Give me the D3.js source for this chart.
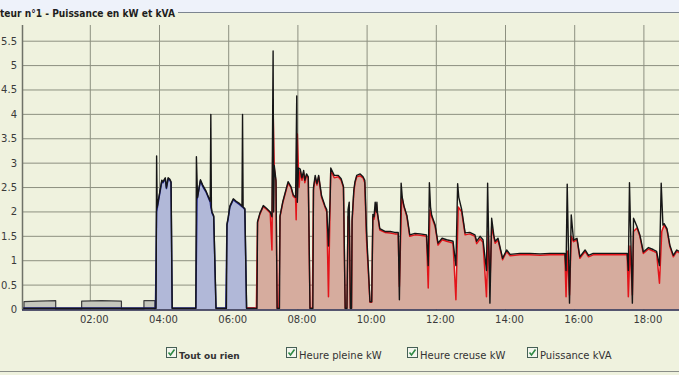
<!DOCTYPE html>
<html lang="fr">
<head>
<meta charset="utf-8">
<title>Puissance en kW et kVA</title>
<style>
  html, body { margin: 0; padding: 0; background: #eff2de; }
  svg { display: block; font-family: "DejaVu Sans", Verdana, sans-serif; }
  .grid line { stroke: #8d9080; stroke-width: 1; }
  .tick-label { font-size: 10px; fill: #3a3a3a; }
  .legend text { font-size: 10px; fill: #333; }
</style>
</head>
<body>
<svg id="chart" width="679" height="375"></svg>
<script src="https://cdn.jsdelivr.net/npm/d3@7/dist/d3.min.js"></script>
<script>
// chart values
const title = "teur n°1 - Puissance en kW et kVA";
const yTicks = [0, 0.5, 1, 1.5, 2, 2.5, 3, 3.5, 4, 4.5, 5, 5.5];
const xTickLabels = ["02:00", "04:00", "06:00", "08:00", "10:00", "12:00", "14:00", "16:00", "18:00"];
const legendLabels = ["Tout ou rien", "Heure pleine kW", "Heure creuse kW", "Puissance kVA"];

const toutOuRien = [
  ["00:05", 0], ["00:05", 0.16], ["00:30", 0.17], ["01:00", 0.18], ["01:00", 0],
  ["01:45", 0], ["01:45", 0.17], ["02:20", 0.18], ["02:54", 0.17], ["02:54", 0],
  ["03:33", 0], ["03:33", 0.18], ["03:52", 0.18], ["03:52", 0]
];

const heureCreuse = [
  ["00:00", 0.03], ["01:00", 0.03], ["02:00", 0.03], ["03:00", 0.03], ["03:53", 0.03],
  ["03:55", 2.0], ["04:04", 2.62], ["04:06", 2.6], ["04:10", 2.68], ["04:12", 2.48],
  ["04:15", 2.68], ["04:18", 2.65], ["04:20", 2.6], ["04:22", 0.03],
  ["05:03", 0.03], ["05:05", 2.25], ["05:11", 2.64], ["05:15", 2.52], ["05:21", 2.4],
  ["05:28", 2.2], ["05:29", 2.1], ["05:31", 1.98], ["05:34", 1.9], ["05:38", 0.03],
  ["05:55", 0.03], ["05:57", 1.73], ["05:59", 1.85], ["06:02", 2.1], ["06:08", 2.25],
  ["06:13", 2.2], ["06:19", 2.15], ["06:24", 2.1], ["06:28", 2.05], ["06:31", 0.03],
  ["06:45", 0.03]
];

const heurePleine = [
  ["06:31", 0.03], ["06:48", 0.03], ["06:50", 1.78], ["06:54", 1.95], ["07:00", 2.11],
  ["07:06", 2.05], ["07:12", 1.98], ["07:15", 1.22], ["07:17", 4.1], ["07:19", 2.9],
  ["07:22", 2.6], ["07:24", 0.03],
  ["07:27", 0.03], ["07:29", 1.9], ["07:34", 2.2], ["07:43", 2.59], ["07:48", 2.5],
  ["07:52", 2.32], ["07:56", 2.28], ["07:57", 1.84], ["07:59", 3.6], ["08:02", 2.5],
  ["08:04", 2.85], ["08:07", 2.65], ["08:10", 2.8], ["08:12", 2.6], ["08:15", 2.75],
  ["08:18", 2.7], ["08:21", 0.03],
  ["08:25", 0.03], ["08:27", 2.45], ["08:30", 2.7], ["08:33", 2.55], ["08:36", 2.72],
  ["08:41", 2.3], ["08:47", 2.1], ["08:50", 2.0], ["08:53", 0.26], ["08:56", 2.3],
  ["08:57", 2.85], ["09:03", 2.7], ["09:10", 2.72], ["09:15", 2.65], ["09:19", 2.5],
  ["09:22", 0.03],
  ["09:25", 0.03], ["09:27", 1.9], ["09:29", 1.95], ["09:31", 0.03],
  ["09:33", 0.03], ["09:34", 1.8], ["09:37", 2.4], ["09:39", 2.59], ["09:42", 2.72],
  ["09:48", 2.74], ["09:53", 2.7], ["09:56", 2.6], ["09:59", 1.43], ["10:02", 0.8],
  ["10:05", 0.15], ["10:08", 0.15],
  ["10:10", 1.9], ["10:12", 1.85], ["10:16", 2.15], ["10:18", 1.95], ["10:22", 1.63],
  ["10:31", 1.58], ["10:40", 1.57], ["10:48", 1.55], ["10:54", 1.55], ["10:56", 0.47],
  ["11:00", 2.32], ["11:04", 2.1], ["11:09", 1.9], ["11:14", 1.5], ["11:23", 1.53],
  ["11:32", 1.52], ["11:43", 1.5], ["11:46", 0.44], ["11:49", 2.04], ["11:52", 1.9],
  ["11:58", 1.7], ["12:03", 1.32], ["12:10", 1.43], ["12:18", 1.4], ["12:29", 1.36],
  ["12:34", 0.2], ["12:38", 2.1], ["12:44", 2.0], ["12:50", 1.53], ["12:58", 1.55],
  ["13:07", 1.5], ["13:10", 1.35], ["13:16", 1.45], ["13:21", 1.38], ["13:27", 0.26],
  ["13:30", 1.6], ["13:33", 0.5], ["13:36", 1.7], ["13:42", 1.36], ["13:47", 1.43],
  ["13:55", 1.02], ["14:02", 1.19], ["14:08", 1.1], ["14:25", 1.12], ["14:42", 1.12],
  ["15:00", 1.11], ["15:17", 1.12], ["15:43", 1.12], ["15:45", 0.26], ["15:47", 1.2],
  ["15:51", 0.3], ["15:54", 1.5], ["15:58", 1.39], ["16:04", 1.43], ["16:09", 1.05],
  ["16:18", 1.19], ["16:24", 1.08], ["16:32", 1.12], ["17:01", 1.12], ["17:31", 1.12],
  ["17:33", 0.26], ["17:36", 1.3], ["17:40", 0.3], ["17:42", 1.6], ["17:48", 1.67],
  ["17:53", 1.5], ["17:59", 1.15], ["18:08", 1.24], ["18:16", 1.2], ["18:22", 1.16],
  ["18:27", 0.54], ["18:31", 1.6], ["18:35", 1.73], ["18:40", 1.63], ["18:45", 1.29],
  ["18:51", 1.08], ["18:57", 1.19], ["19:03", 1.15], ["19:10", 1.12]
];

const puissanceKVA = [
  ["00:00", 0.02], ["03:54", 0.02], ["03:55", 3.15], ["03:56", 2.1], ["04:04", 2.65],
  ["04:06", 2.62], ["04:10", 2.7], ["04:12", 2.5], ["04:15", 2.7], ["04:18", 2.67],
  ["04:20", 2.62], ["04:22", 0.02],
  ["05:03", 0.02], ["05:04", 3.13], ["05:06", 2.3], ["05:11", 2.66], ["05:15", 2.55],
  ["05:21", 2.42], ["05:28", 2.22], ["05:29", 4.0], ["05:30", 2.1], ["05:31", 2.0],
  ["05:34", 1.92], ["05:38", 0.02],
  ["05:56", 0.02], ["05:57", 1.75], ["05:59", 1.88], ["06:02", 2.12], ["06:08", 2.27],
  ["06:13", 2.22], ["06:19", 2.17], ["06:23", 2.12], ["06:24", 4.0], ["06:25", 2.1],
  ["06:28", 2.07], ["06:31", 0.02],
  ["06:49", 0.02], ["06:50", 1.8], ["06:54", 1.97], ["07:00", 2.13], ["07:06", 2.07],
  ["07:12", 2.0], ["07:15", 1.9], ["07:17", 5.3], ["07:18", 2.0], ["07:19", 2.95],
  ["07:22", 2.65], ["07:24", 0.02],
  ["07:28", 0.02], ["07:29", 1.92], ["07:34", 2.22], ["07:43", 2.62], ["07:48", 2.52],
  ["07:52", 2.35], ["07:56", 2.3], ["07:58", 4.38], ["07:59", 2.2], ["08:01", 2.9],
  ["08:04", 2.88], ["08:07", 2.7], ["08:10", 2.85], ["08:12", 2.65], ["08:15", 2.78],
  ["08:18", 2.72], ["08:21", 0.02],
  ["08:26", 0.02], ["08:27", 2.5], ["08:30", 2.75], ["08:33", 2.58], ["08:36", 2.75],
  ["08:41", 2.33], ["08:47", 2.12], ["08:50", 2.05], ["08:53", 1.3], ["08:56", 2.3],
  ["08:57", 2.9], ["09:03", 2.75], ["09:10", 2.75], ["09:15", 2.68], ["09:19", 2.52],
  ["09:22", 0.02],
  ["09:25", 0.02], ["09:27", 2.05], ["09:29", 2.2], ["09:31", 0.02],
  ["09:33", 0.02], ["09:34", 1.85], ["09:37", 2.45], ["09:39", 2.62], ["09:42", 2.75],
  ["09:48", 2.78], ["09:53", 2.72], ["09:56", 2.65], ["09:59", 1.6], ["10:02", 0.9],
  ["10:05", 0.16], ["10:08", 0.16],
  ["10:10", 1.95], ["10:12", 1.9], ["10:14", 2.2], ["10:16", 2.0], ["10:17", 2.2],
  ["10:18", 1.98], ["10:22", 1.66], ["10:31", 1.6], ["10:40", 1.6], ["10:48", 1.58],
  ["10:54", 1.58], ["10:56", 0.2], ["10:59", 2.59], ["11:01", 2.3], ["11:04", 2.12],
  ["11:09", 1.93], ["11:14", 1.53], ["11:23", 1.56], ["11:32", 1.55], ["11:43", 1.53],
  ["11:46", 0.9], ["11:48", 2.6], ["11:50", 2.1], ["11:52", 1.93], ["11:58", 1.73],
  ["12:03", 1.36], ["12:10", 1.46], ["12:18", 1.43], ["12:29", 1.4], ["12:34", 0.9],
  ["12:37", 2.58], ["12:39", 2.3], ["12:44", 2.05], ["12:50", 1.57], ["12:58", 1.58],
  ["13:07", 1.53], ["13:10", 1.4], ["13:16", 1.5], ["13:21", 1.43], ["13:27", 0.8],
  ["13:29", 2.59], ["13:33", 0.13], ["13:36", 1.87], ["13:40", 1.5], ["13:42", 1.4],
  ["13:47", 1.46], ["13:55", 1.05], ["14:02", 1.22], ["14:08", 1.13], ["14:25", 1.15],
  ["14:42", 1.15], ["15:00", 1.14], ["15:17", 1.15], ["15:43", 1.15], ["15:45", 0.8],
  ["15:47", 2.57], ["15:51", 0.13], ["15:54", 1.94], ["15:58", 1.42], ["16:04", 1.46],
  ["16:09", 1.08], ["16:18", 1.22], ["16:24", 1.11], ["16:32", 1.15], ["17:01", 1.15],
  ["17:31", 1.15], ["17:33", 0.8], ["17:35", 2.6], ["17:40", 0.13], ["17:42", 1.87],
  ["17:48", 1.7], ["17:53", 1.53], ["17:59", 1.18], ["18:08", 1.27], ["18:16", 1.23],
  ["18:22", 1.19], ["18:27", 0.9], ["18:30", 2.59], ["18:33", 1.73], ["18:35", 1.76],
  ["18:40", 1.66], ["18:45", 1.32], ["18:51", 1.11], ["18:57", 1.22], ["19:03", 1.18],
  ["19:10", 1.15]
];

const parseTime = d3.timeParse("%H:%M");
const toPoints = arr => arr.map(([t, v]) => ({t: parseTime(t), v}));

const svg = d3.select("#chart");
const W = 679, H = 375;
const plotTop = 25, plotLeft = 22;

const x = d3.scaleTime()
    .domain([parseTime("00:00"), parseTime("19:30")])
    .range([21.1, 21.1 + 19.5 * 34.6]);
const y = d3.scaleLinear().domain([0, 5.5]).range([309.5, 41.2]);

// backgrounds and frame
svg.append("rect").attr("width", W).attr("height", H).attr("fill", "#eff2de");
svg.append("rect").attr("width", W).attr("height", 12.5).attr("fill", "#eef2fa");
svg.append("line").attr("x1", 178).attr("x2", W).attr("y1", 12.5).attr("y2", 12.5)
    .attr("stroke", "#7c8590").attr("stroke-width", 1.2);
svg.append("line").attr("x1", 0).attr("x2", W).attr("y1", 371.5).attr("y2", 371.5)
    .attr("stroke", "#8a8e88").attr("stroke-width", 1.2);

// title is the cut-off legend of the fieldset
svg.append("text")
    .attr("x", 0).attr("y", 17)
    .attr("font-size", "10px").attr("font-weight", "bold").attr("fill", "#1e1e1e")
    .attr("textLength", 175).attr("lengthAdjust", "spacingAndGlyphs")
    .text(title);

// grid
const grid = svg.append("g").attr("class", "grid");
grid.selectAll(".h").data(yTicks.filter(d => d > 0)).join("line")
    .attr("x1", plotLeft).attr("x2", W)
    .attr("y1", d => y(d)).attr("y2", d => y(d));
grid.selectAll(".v").data(xTickLabels).join("line")
    .attr("x1", d => x(parseTime(d))).attr("x2", d => x(parseTime(d)))
    .attr("y1", plotTop).attr("y2", y(0));

// y labels
svg.append("g").selectAll("text").data(yTicks).join("text")
    .attr("class", "tick-label")
    .attr("x", 17).attr("y", d => y(d) + 3.5)
    .attr("text-anchor", "end")
    .text(d3.format(""));

// x labels
svg.append("g").selectAll("text").data(xTickLabels).join("text")
    .attr("class", "tick-label")
    .attr("x", d => x(parseTime(d)) + 4).attr("y", 323)
    .attr("text-anchor", "middle")
    .text(d => d);

svg.append("clipPath").attr("id", "clip").append("rect")
    .attr("x", plotLeft).attr("y", plotTop).attr("width", W - plotLeft).attr("height", y(0) - plotTop);
const plot = svg.append("g").attr("clip-path", "url(#clip)");

const area = d3.area().x(d => x(d.t)).y0(y(0)).y1(d => y(d.v));
const line = d3.line().x(d => x(d.t)).y(d => y(d.v));

const series = [
    {data: toPoints(toutOuRien), fill: "#c5c7bd", stroke: "#3c3c3c", width: 1.2},
    {data: toPoints(heureCreuse), fill: "#b1b8d8", stroke: "#1c2088", width: 1.5},
    {data: toPoints(heurePleine), fill: "#d6ac9e", stroke: "#e3141a", width: 1.5}
];

series.forEach(s => {
    plot.append("path").datum(s.data).attr("d", area).attr("fill", s.fill);
});
series.forEach(s => {
    plot.append("path").datum(s.data).attr("d", line)
        .attr("fill", "none").attr("stroke", s.stroke).attr("stroke-width", s.width)
        .attr("stroke-linejoin", "round");
});
plot.append("path").datum(toPoints(puissanceKVA)).attr("d", line)
    .attr("fill", "none").attr("stroke", "#161616").attr("stroke-width", 1.4)
    .attr("stroke-linejoin", "round");

// axes lines
svg.append("line").attr("x1", plotLeft + 0.5).attr("x2", plotLeft + 0.5)
    .attr("y1", plotTop).attr("y2", y(0))
    .attr("stroke", "#6f7268").attr("stroke-width", 1.5);
svg.append("line").attr("x1", plotLeft).attr("x2", W)
    .attr("y1", y(0) + 0.5).attr("y2", y(0) + 0.5)
    .attr("stroke", "#22224a").attr("stroke-width", 1.6);

// legend with checkboxes
const legendX = [166, 286, 407, 527];
const legend = svg.append("g").attr("class", "legend");
const item = legend.selectAll("g").data(legendLabels).join("g")
    .attr("transform", (d, i) => `translate(${legendX[i]},347)`);
item.append("rect").attr("x", 0.5).attr("y", 0.5).attr("width", 10).attr("height", 10)
    .attr("fill", "#f4f6ee").attr("stroke", "#456055").attr("stroke-width", 1);
item.append("path").attr("d", "M2.5,5.5 L4.5,8 L8.5,2.5")
    .attr("fill", "none").attr("stroke", "#2f8a45").attr("stroke-width", 1.6);
item.append("text").attr("x", 13).attr("y", 11.5)
    .attr("font-weight", (d, i) => i === 0 ? "bold" : "normal")
    .style("font-size", (d, i) => i === 0 ? "9px" : "10px")
    .text(d => d);
</script>
</body>
</html>
